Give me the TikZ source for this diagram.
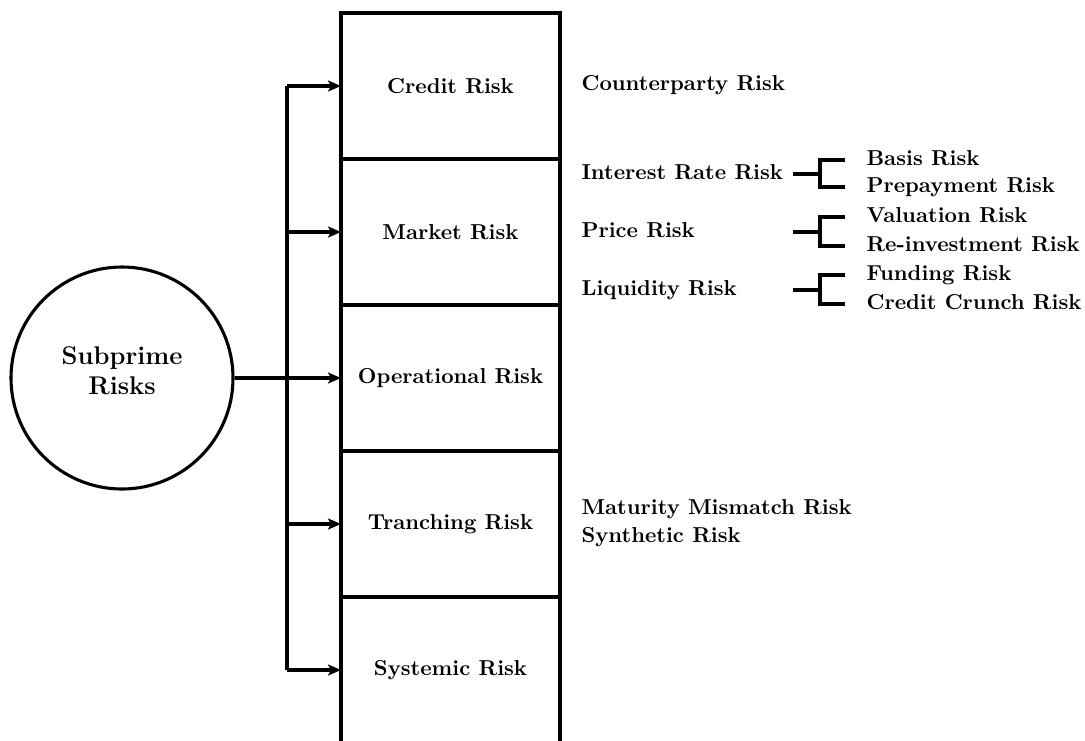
\documentclass[tikz,border=0pt]{standalone}
\usepackage{tikz}
\usetikzlibrary{positioning,arrows.meta,calc}

\begin{document}
\begin{tikzpicture}[
    x=0.5pt, y=-0.5pt,
    font=\fontsize{10.8}{13}\selectfont\bfseries,
    line width=1.55pt,
    arr/.style     = {-{Stealth[length=6.5pt,width=5.5pt,inset=1.5pt]}},
    riskbox/.style = {draw, rectangle, minimum width=109.5pt, minimum height=73pt,
                      outer sep=0pt, inner sep=0pt},
    hub/.style     = {draw, circle, minimum size=111pt, inner sep=0pt},
    hubtxt/.style  = {align=center, inner sep=0pt, font=\fontsize{12.8}{15}\selectfont\bfseries},
    lbl/.style     = {anchor=west, inner sep=0pt, text height=1.6ex, text depth=0.3ex},
]
\useasboundingbox (0,0) rectangle (1085,740);

%======== stacked risk boxes ========
\node[riskbox] (cr) at (450.5,86) {Credit Risk};
\node[riskbox, below=0pt of cr] (mr) {Market Risk};
\node[riskbox, below=0pt of mr] (op) {Operational Risk};
\node[riskbox, below=0pt of op] (tr) {Tranching Risk};
\node[riskbox, below=0pt of tr] (sy) {Systemic Risk};

%======== hub and bus ========
\node[hub] (sub) at (122,378) {};
\node[hubtxt] (subtxt) at ($(sub.center)+(0,-7)$) {Subprime\\Risks};
\coordinate (bus) at (287,378);
\draw (bus |- cr.west) -- (bus |- sy.west);
\foreach \b in {cr,mr,tr,sy} \draw[arr] (bus |- \b.west) -- (\b.west);
\draw[arr] (sub.east) -- (op.west);

%======== sub-risks on the right ========
\node[lbl] (cp) at (580,85)  {Counterparty Risk};
\node[lbl] (ir) at (580,174) {Interest Rate Risk};
\node[lbl] (pr) at (580,232) {Price Risk};
\node[lbl] (lq) at (580,290) {Liquidity Risk};
\node[lbl] (mm) at (580,509) {Maturity Mismatch Risk};
\node[lbl] (sn) at (580,537) {Synthetic Risk};

\node[lbl] (ba) at (865,160) {Basis Risk};
\node[lbl] (pp) at (865,187) {Prepayment Risk};
\node[lbl] (va) at (865,217) {Valuation Risk};
\node[lbl] (re) at (865,246) {Re-investment Risk};
\node[lbl] (fu) at (865,275) {Funding Risk};
\node[lbl] (cc) at (865,304) {Credit Crunch Risk};

% brackets
\foreach \p/\a/\b in {ir/ba/pp, pr/va/re, lq/fu/cc}{
  \coordinate (s\p) at ($(\p.west)+(213,0)$);
  \draw (s\p) -- ++(27,0) coordinate (k\p);
  \draw[shorten <=10pt, shorten >=10pt] (\a.west) -| (k\p) |- (\b.west);
}

\end{tikzpicture}
\end{document}
